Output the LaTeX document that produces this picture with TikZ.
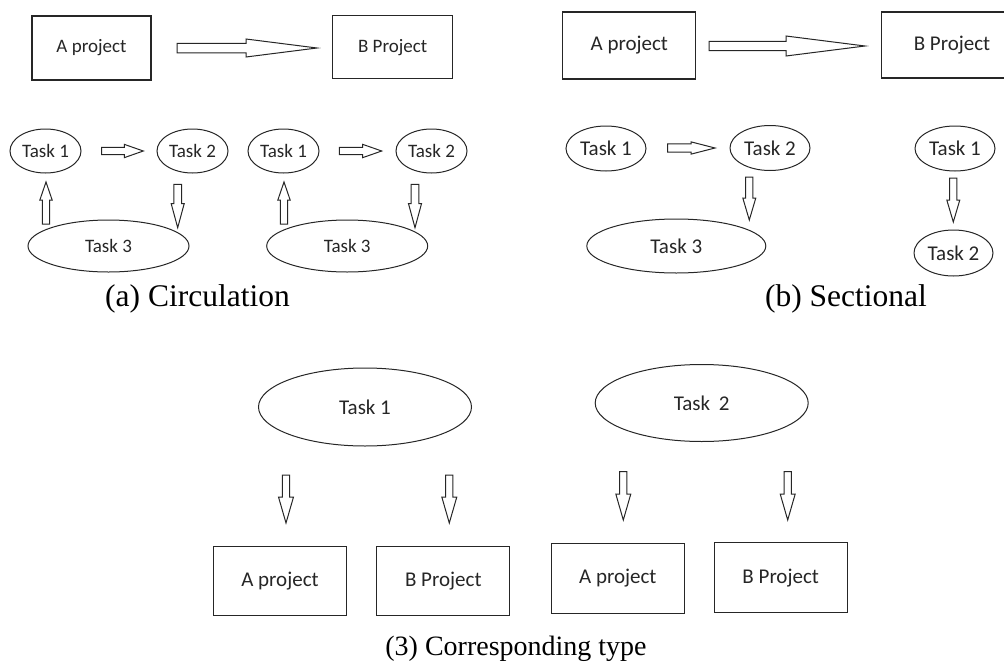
\documentclass[tikz,border=0pt]{standalone}
\usepackage{fontspec}
\setmainfont{Liberation Serif}
\newfontfamily\labelfont{Carlito}
\usetikzlibrary{shapes.geometric,positioning}

% hollow block arrow: length, head length, shaft width, head width
\tikzset{
  pics/hollowarrow/.style n args={4}{code={
    \draw[arrowline] (0,-#3/2) -- (#1-#2,-#3/2) -- (#1-#2,-#4/2) -- (#1,0)
      -- (#1-#2,#4/2) -- (#1-#2,#3/2) -- (0,#3/2) -- cycle;
  }}
}

\begin{document}
\begin{tikzpicture}[x=1pt, y=-1pt,
  projbox/.style={rectangle, draw=black!85, line width=1.2pt, minimum width=133pt, minimum height=69pt, inner sep=0pt, text=black!85},
  task/.style={ellipse, draw=black!85, line width=1pt, minimum width=80pt, minimum height=45pt, inner sep=0pt, text=black!85},
  smallfont/.style={font=\labelfont\fontsize{19}{22}\selectfont},
  bigfont/.style={font=\labelfont\fontsize{21}{24}\selectfont},
  caption/.style={font=\fontsize{31.5}{36}\selectfont, anchor=base},
  arrowline/.style={draw=black!85, line width=1pt, fill=white, line join=miter}
]
\useasboundingbox (0,0) rectangle (1004,672);
\clip (0,0) rectangle (1004,672);

% (a) Circulation
\node[projbox, smallfont, minimum width=119pt, minimum height=64pt] (aA) at (91.5,48) {A project};
\node[projbox, smallfont, minimum width=120pt, minimum height=63pt] (aB) at (392.7,47.3) {B Project};
\pic at (177,48) {hollowarrow={140}{71}{9.5}{18}};

\node[task, smallfont, minimum width=71pt, minimum height=44pt] (a1) at (45.5,151) {Task 1};
\node[task, smallfont, minimum width=71pt, minimum height=44pt] (a2) at (192.5,151) {Task 2};
\node[task, smallfont, minimum width=161pt, minimum height=52pt] (a3) at (108.5,246) {Task 3};
\pic at (101.7,151) {hollowarrow={41.6}{19}{7.3}{13.3}};
\pic[rotate=-90] at (177.7,184.3) {hollowarrow={43.4}{24}{7.7}{13}};
\pic[rotate=90] at (46,224) {hollowarrow={42}{18}{7.3}{12.3}};

\node[task, smallfont, minimum width=71pt, minimum height=44pt] (a4) at (283.5,151) {Task 1};
\node[task, smallfont, minimum width=71pt, minimum height=44pt] (a5) at (431.5,151) {Task 2};
\node[task, smallfont, minimum width=161pt, minimum height=52pt] (a6) at (347.2,246) {Task 3};
\pic at (339.3,151) {hollowarrow={42.4}{19}{7.3}{13.3}};
\pic[rotate=-90] at (415,184.3) {hollowarrow={43.4}{24}{7.7}{13}};
\pic[rotate=90] at (284,224) {hollowarrow={42}{18}{7.3}{12.3}};

\node[caption] (capA) at (197.5,306) {(a) Circulation};

% (b) Sectional
\node[projbox, bigfont, minimum width=133pt, minimum height=67pt] (bA) at (629.3,45.5) {A project};
\node[projbox, bigfont, minimum width=141pt, minimum height=66pt] (bB) at (952,45) {B Project};
\pic at (709,46) {hollowarrow={156}{79}{9.3}{20}};

\node[task, bigfont] (b1) at (606,148.5) {Task 1};
\node[task, bigfont] (b2) at (770,148) {Task 2};
\node[task, bigfont, minimum width=179pt, minimum height=54pt] (b3) at (676.3,246) {Task 3};
\pic at (667.7,148) {hollowarrow={47.3}{24}{8.3}{12.3}};
\pic[rotate=-90] at (749.3,177) {hollowarrow={43}{22}{7.3}{13}};

\node[task, bigfont] (b4) at (955,148.5) {Task 1};
\node[task, bigfont, minimum width=79pt, minimum height=46pt] (b5) at (953.5,253) {Task 2};
\pic[rotate=-90] at (953.3,178) {hollowarrow={44}{22}{7.3}{13}};

\node[caption] (capB) at (846,306) {(b) Sectional};

% (3) Corresponding type
\node[task, bigfont, minimum width=213pt, minimum height=78pt] (c1) at (365,407) {Task 1};
\node[task, bigfont, minimum width=213pt, minimum height=77pt] (c2) at (701.7,403) {Task\hspace{4pt} 2};

\node[projbox, bigfont] (cA1) at (280,581.3) {A project};
\node[projbox, bigfont] (cB1) at (443.3,581.3) {B Project};
\node[projbox, bigfont, minimum height=70pt] (cA2) at (617.8,578.3) {A project};
\node[projbox, bigfont, minimum height=70pt] (cB2) at (780.7,577.8) {B Project};

\pic[rotate=-90] at (286,475) {hollowarrow={48}{26}{7.3}{15}};
\pic[rotate=-90] at (449.3,475) {hollowarrow={48}{26}{7.3}{15}};
\pic[rotate=-90] at (623.3,471.7) {hollowarrow={48.3}{26}{7.3}{15}};
\pic[rotate=-90] at (787.7,471.7) {hollowarrow={48.3}{26}{7.3}{15}};

\node[caption, font=\fontsize{28}{32}\selectfont] (capC) at (516,655) {(3) Corresponding type};

\end{tikzpicture}
\end{document}
